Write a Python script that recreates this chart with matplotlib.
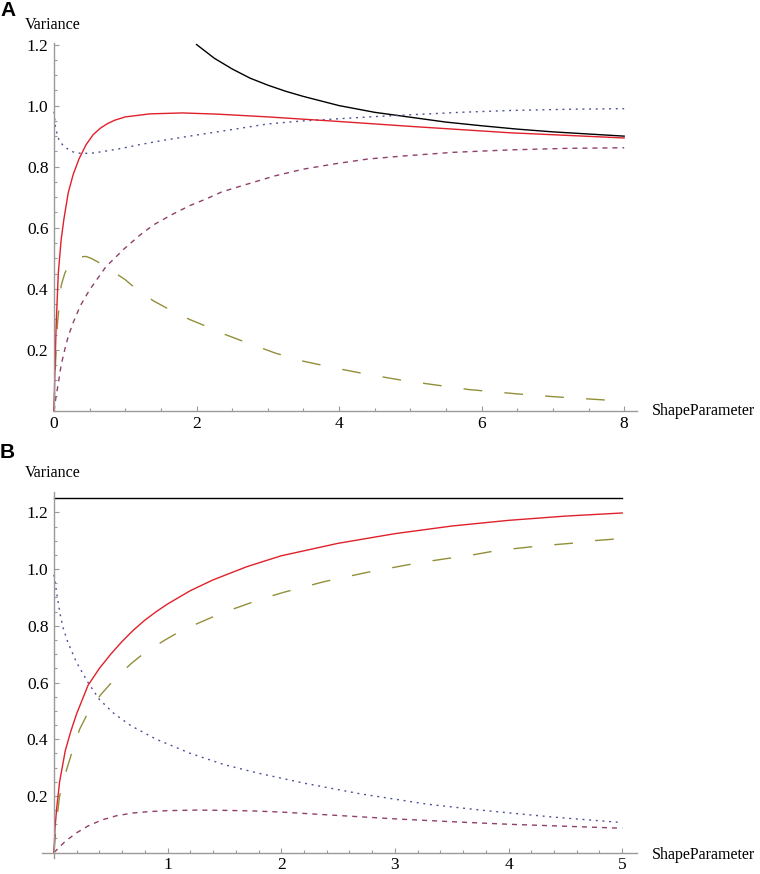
import numpy as np
import matplotlib
matplotlib.use("Agg")
import matplotlib.pyplot as plt

# ---- panel A data ----
a_black_x = [2.0, 2.25, 2.5, 2.75, 3.0, 3.25, 3.5, 4.0, 4.5, 5.0, 5.5, 6.0, 6.5, 7.0, 7.5, 8.0]
a_black_y = [1.2, 1.155, 1.12, 1.09, 1.067, 1.047, 1.03, 1.0, 0.978, 0.962, 0.946, 0.934, 0.923, 0.914, 0.907, 0.90]

a_red_x = [0, 0.015, 0.03, 0.06, 0.1, 0.14, 0.2, 0.27, 0.35, 0.45, 0.55, 0.65, 0.75, 0.85, 1.0, 1.35, 1.8,
           2.3, 3.0, 4.0, 5.0, 6.4, 8.0]
a_red_y = [0, 0.15, 0.28, 0.45, 0.56, 0.63, 0.715, 0.775, 0.825, 0.872, 0.905, 0.926, 0.941, 0.952, 0.963, 0.973,
           0.976, 0.972, 0.963, 0.948, 0.932, 0.911, 0.894]

a_blue_x = [0, 0.02, 0.05, 0.08, 0.12, 0.18, 0.25, 0.3, 0.4, 0.55, 0.7, 0.95, 1.2, 1.5, 1.9, 2.4, 3.0, 3.5,
            4.0, 4.5, 5.0, 5.7, 6.4, 7.2, 8.0]
a_blue_y = [0.98, 0.93, 0.9, 0.883, 0.872, 0.86, 0.85, 0.846, 0.843, 0.845, 0.85, 0.86, 0.872, 0.885, 0.9,
            0.918, 0.94, 0.95, 0.957, 0.964, 0.97, 0.978, 0.984, 0.988, 0.99]

a_purple_x = [0, 0.03, 0.06, 0.1, 0.15, 0.2, 0.27, 0.37, 0.5, 0.6, 0.73, 0.85, 0.97, 1.2, 1.4, 1.67, 1.9,
              2.14, 2.35, 2.6, 3.1, 3.5, 3.96, 4.4, 4.9, 5.6, 6.4, 7.2, 8.0]
a_purple_y = [0, 0.05, 0.09, 0.15, 0.2, 0.245, 0.29, 0.345, 0.397, 0.43, 0.473, 0.5, 0.528, 0.575, 0.61, 0.645,
              0.672, 0.695, 0.717, 0.735, 0.77, 0.792, 0.81, 0.825, 0.835, 0.847, 0.855, 0.86, 0.862]

a_olive_x = [0, 0.02, 0.05, 0.1, 0.15, 0.2, 0.3, 0.38, 0.45, 0.52, 0.6, 0.75, 0.87, 1.0, 1.2, 1.4, 1.67, 1.9,
             2.14, 2.35, 2.6, 3.1, 3.5, 3.96, 4.4, 4.9, 5.3, 5.83, 6.5, 7.0, 8.0]
a_olive_y = [0, 0.15, 0.29, 0.41, 0.45, 0.475, 0.5, 0.505, 0.506, 0.5, 0.49, 0.47, 0.45, 0.43, 0.39, 0.36,
             0.326, 0.30, 0.277, 0.255, 0.233, 0.19, 0.163, 0.14, 0.12, 0.10, 0.087, 0.07, 0.056, 0.047, 0.032]

# ---- panel B data ----
b_black_x = [0, 5]
b_black_y = [1.25, 1.25]

b_red_x = [0, 0.01, 0.025, 0.05, 0.1, 0.15, 0.2, 0.3, 0.4, 0.5, 0.6, 0.7, 0.8, 0.9, 1.0, 1.2, 1.4, 1.7,
           2.0, 2.5, 3.0, 3.5, 4.0, 4.5, 5.0]
b_red_y = [0, 0.09, 0.16, 0.25, 0.36, 0.43, 0.49, 0.59, 0.65, 0.70, 0.745, 0.785, 0.82, 0.85, 0.877, 0.924,
           0.962, 1.009, 1.047, 1.091, 1.125, 1.152, 1.172, 1.187, 1.198]

b_olive_x = [0, 0.02, 0.05, 0.108, 0.16, 0.226, 0.308, 0.416, 0.534, 0.68, 0.81, 0.99, 1.13, 1.32, 1.47, 1.66, 1.82,
             2.02, 2.18, 2.38, 2.54, 2.75, 2.91, 3.11, 3.27, 3.47, 3.64, 3.85, 4.0, 4.21, 4.37, 4.58, 4.74, 5.0]
b_olive_y = [0, 0.1, 0.2, 0.288, 0.356, 0.435, 0.5, 0.559, 0.612, 0.667, 0.709, 0.753, 0.785, 0.818, 0.844, 0.871, 0.894,
             0.918, 0.935, 0.956, 0.97, 0.988, 1.0, 1.015, 1.026, 1.038, 1.047, 1.062, 1.07, 1.079, 1.085, 1.092, 1.1, 1.108]

b_blue_x = [0, 0.015, 0.035, 0.055, 0.08, 0.12, 0.167, 0.2, 0.3, 0.4, 0.53, 0.68, 0.9, 1.2, 1.5, 1.8, 2.2,
            2.7, 3.3, 3.8, 4.4, 5.0]
b_blue_y = [0.98, 0.94, 0.888, 0.84, 0.794, 0.745, 0.7, 0.67, 0.6, 0.54, 0.49, 0.447, 0.4, 0.35, 0.31, 0.28,
            0.245, 0.207, 0.17, 0.148, 0.125, 0.106]

b_purple_x = [0, 0.05, 0.1, 0.2, 0.3, 0.42, 0.55, 0.7, 0.85, 1.0, 1.25, 1.5, 1.75, 2.0, 2.5, 3.0, 3.5, 4.0,
              4.5, 5.0]
b_purple_y = [0, 0.02, 0.04, 0.07, 0.094, 0.115, 0.13, 0.14, 0.145, 0.148, 0.15, 0.149, 0.147, 0.143, 0.131,
              0.119, 0.109, 0.1, 0.093, 0.086]

y_ticks = [0.2, 0.4, 0.6, 0.8, 1.0, 1.2]
y_labels = ["0.2", "0.4", "0.6", "0.8", "1.0", "1.2"]
a_x_ticks = [0, 2, 4, 6, 8]
b_x_ticks = [1, 2, 3, 4, 5]

RED = "#e0202a"
BLUE = "#4b4f94"
PURPLE = "#8f3f6a"
OLIVE = "#928f3a"
AXC = "#9a9a9a"

plt.rcParams["font.family"] = ["Liberation Serif", "DejaVu Serif"]

W, H = 760, 874
fig = plt.figure(figsize=(W / 100, H / 100), dpi=100)


def style_axes(ax):
    for s in ["top", "right"]:
        ax.spines[s].set_visible(False)
    ax.spines["left"].set_position(("data", 0))
    ax.spines["bottom"].set_position(("data", 0))
    for s in ["left", "bottom"]:
        ax.spines[s].set_color(AXC)
        ax.spines[s].set_linewidth(1.0)
    ax.tick_params(which="both", direction="in", color=AXC, width=0.8, labelsize=12.5, labelcolor="black")
    ax.tick_params(which="major", length=3.4)
    ax.tick_params(which="minor", length=1.9)
    ax.tick_params(axis="x", pad=3.5)
    ax.tick_params(axis="y", pad=4)


def draw(ax, black, red, blue, purple, olive):
    kw = dict(lw=1.0, clip_on=False)
    ax.plot(*black, color="black", **kw)
    ax.plot(*olive, color=OLIVE, dashes=(13.5, 16), **kw)
    ax.plot(*purple, color=PURPLE, dashes=(3.6, 3.6), **kw)
    ax.plot(*blue, color=BLUE, dashes=(1.4, 3.4), **kw)
    ax.plot(*red, color=RED, **kw)


# panel A
axA = fig.add_axes([54 / W, 1 - 411 / H, (637 - 54) / W, (411 - 43) / H])
axA.set_xlim(0, 8.18)
axA.set_ylim(0, 1.205)
draw(axA, (a_black_x, a_black_y), (a_red_x, a_red_y), (a_blue_x, a_blue_y),
     (a_purple_x, a_purple_y), (a_olive_x, a_olive_y))
style_axes(axA)
axA.set_xticks(a_x_ticks, [str(t) for t in a_x_ticks])
axA.set_xticks(np.arange(0.5, 8.01, 0.5), minor=True)
axA.set_yticks(y_ticks, y_labels)
axA.set_yticks(np.arange(0.05, 1.201, 0.05), minor=True)

# panel B
axB = fig.add_axes([42 / W, 1 - 858 / H, (637 - 42) / W, (858 - 492) / H])
axB.set_xlim(-0.105, 5.13)
axB.set_ylim(-0.019, 1.272)
draw(axB, (b_black_x, b_black_y), (b_red_x, b_red_y), (b_blue_x, b_blue_y),
     (b_purple_x, b_purple_y), (b_olive_x, b_olive_y))
style_axes(axB)
axB.set_xticks(b_x_ticks, [str(t) for t in b_x_ticks])
axB.set_xticks(np.arange(0.2, 5.01, 0.2), minor=True)
axB.set_yticks(y_ticks, y_labels)
axB.set_yticks(np.arange(0.05, 1.251, 0.05), minor=True)

# labels
for yv, ya, letter, yl in [(25, 411, "A", 1), (473, 855, "B", 443)]:
    fig.text(25 / W, 1 - yv / H, "Variance", fontsize=11.5, va="center", ha="left")
    fig.text(652 / W, 1 - ya / H, "ShapeParameter", fontsize=11.5, va="center", ha="left")
    fig.text(0 / W, 1 - yl / H, letter, fontsize=15, fontweight="bold", va="top", ha="left",
             family=["Liberation Sans", "DejaVu Sans"])

fig.savefig("out.png", dpi=100)
